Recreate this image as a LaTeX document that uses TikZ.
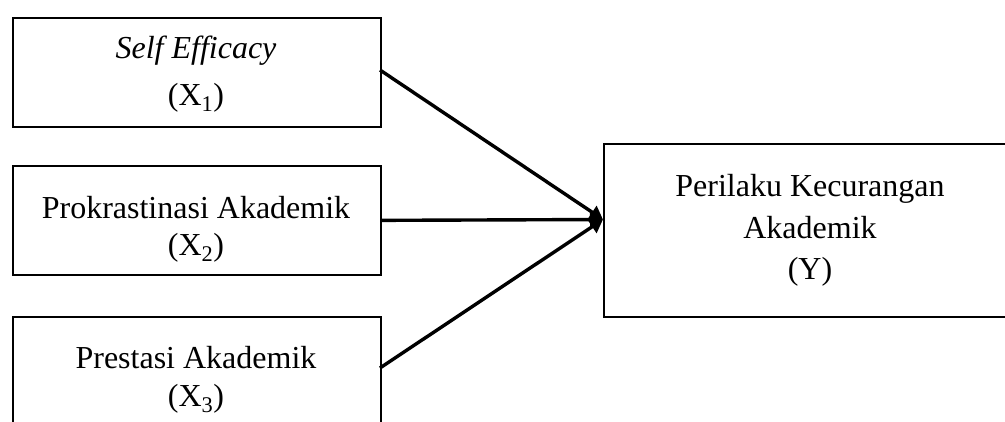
\documentclass[tikz,border=0pt]{standalone}
\usepackage{fontspec}
\setmainfont{Liberation Serif}
\usetikzlibrary{arrows.meta}
\begin{document}
\begin{tikzpicture}[x=1pt,y=-1pt,
  box/.style={draw, line width=1.7pt, inner sep=0pt, anchor=north west},
  lbl/.style={font=\fontsize{32}{38}\selectfont, anchor=base, inner sep=0pt},
  link/.style={line width=3.4pt, -{Triangle[length=13pt,width=15pt]}}]
\useasboundingbox (0,0) rectangle (1005,421);
\clip (0,0) rectangle (1005,421);
% boxes
\node[box, minimum width=368pt, minimum height=109pt] (b1) at (12,17) {};
\node[box, minimum width=368pt, minimum height=109pt] (b2) at (12,165) {};
\node[box, minimum width=368pt, minimum height=108pt] (b3) at (12,316) {};
\node[box, minimum width=420pt, minimum height=173pt] (y) at (603,143) {};
% texts
\node[lbl] (t1a) at (196,58.5) {\textit{Self Efficacy}};
\node[lbl] (t1b) at (196,105) {(X\textsubscript{1})};
\node[lbl] (t2a) at (196,218) {Prokrastinasi Akademik};
\node[lbl] (t2b) at (196,255) {(X\textsubscript{2})};
\node[lbl] (t3a) at (196,368) {Prestasi Akademik};
\node[lbl] (t3b) at (196,406) {(X\textsubscript{3})};
\node[lbl] (ya) at (810,196) {Perilaku Kecurangan};
\node[lbl] (yb) at (810,238) {Akademik};
\node[lbl] (yc) at (810,279) {(Y)};
% connectors
\coordinate (tip) at (603,219.5);
\coordinate (s1) at (380,70);
\coordinate (s3) at (380,368);
\draw[link] (s1) -- (tip);
\draw[link] (b2.east) -- (tip);
\draw[link] (s3) -- (tip);
\end{tikzpicture}
\end{document}
